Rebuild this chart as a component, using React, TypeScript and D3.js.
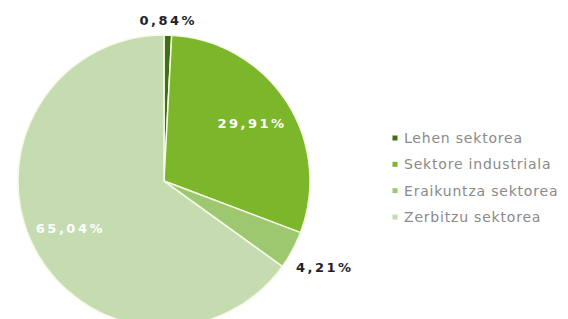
import React from "react";
import * as d3 from "d3";

const W = 568;
const H = 319;

const categories = ["Lehen sektorea", "Sektore industriala", "Eraikuntza sektorea", "Zerbitzu sektorea"];
const shares = [0.84, 29.91, 4.21, 65.04];
const shareLabels = ["0,84%", "29,91%", "4,21%", "65,04%"];
const colors = ["#3f6f12", "#7cb62a", "#9ec870", "#c5dcb1"];
// inside labels are white, small slices get a dark label outside the pie
const labelInside = [false, true, false, true];
const labelRadius = [1.1, 0.72, 1.25, 0.72];

const CX = 164;
const CY = 181;
const R = 146;

export default function App() {
  const pie = d3
    .pie<number>()
    .sort(null)
    .value((d) => d);
  const arcs = pie(shares);
  const arc = d3.arc<d3.PieArcDatum<number>>().innerRadius(0).outerRadius(R);

  const legendY = d3.scalePoint<string>().domain(categories).range([138, 217]);

  return (
    <svg
      width={W}
      height={H}
      style={{ position: "absolute", left: 0, top: 0, background: "#fff" }}
      fontFamily="'DejaVu Sans', Verdana, sans-serif"
    >
      <g transform={`translate(${CX},${CY})`}>
        {arcs.map((a, i) => (
          <path key={i} d={arc(a) || ""} fill={colors[i]} stroke="#f6fae6" strokeWidth={1.5} />
        ))}
        {arcs.map((a, i) => {
          const r = R * labelRadius[i];
          const [x, y] = d3.arc<d3.PieArcDatum<number>>().innerRadius(r).outerRadius(r).centroid(a);
          return (
            <text
              key={i}
              x={x}
              y={y}
              dy="0.35em"
              textAnchor="middle"
              fontSize={13}
              fontWeight="bold"
              letterSpacing={2.5}
              fill={labelInside[i] ? "#ffffff" : "#1e1e2a"}
            >
              {shareLabels[i]}
            </text>
          );
        })}
      </g>
      <g>
        {categories.map((c, i) => (
          <g key={c} transform={`translate(395,${legendY(c)})`}>
            <rect x={-2.5} y={-2.5} width={5} height={5} fill={colors[i]} />
            <text x={9} dy="0.35em" fontSize={14} letterSpacing={0.8} fill="#8a8a8a">
              {c}
            </text>
          </g>
        ))}
      </g>
    </svg>
  );
}
